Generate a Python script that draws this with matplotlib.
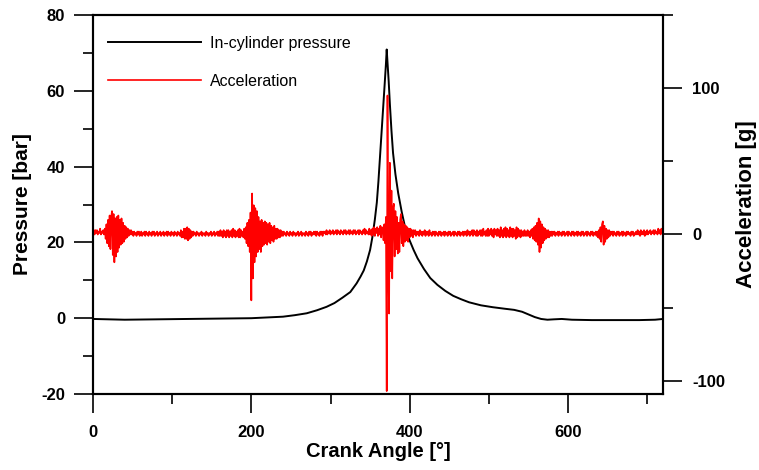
import numpy as np
import matplotlib
matplotlib.use("Agg")
import matplotlib.pyplot as plt
from matplotlib.ticker import MultipleLocator, FixedLocator

plt.rcParams['font.family'] = ['Liberation Sans', 'DejaVu Sans']
plt.rcParams['axes.unicode_minus'] = False

# ---------------- data ----------------
pressure_angle = [0, 40, 80, 120, 160, 200, 220, 240, 255, 270, 283, 295, 305, 315, 325,
                  333, 338, 342, 346, 350, 353, 356, 358.5, 360.5, 362.5, 364.5, 366.5,
                  368.5, 370, 371, 372, 373.5, 375, 377, 379, 382, 385.5, 390, 394, 400,
                  405, 410, 418, 426, 435, 445, 455, 465, 475, 490, 505, 520, 532, 542,
                  550, 558, 566, 574, 582, 592, 605, 630, 660, 690, 710, 720]
pressure_bar = [-0.2, -0.4, -0.3, -0.2, -0.1, 0.0, 0.2, 0.4, 0.8, 1.3, 2.1, 3.0, 4.0, 5.4, 6.9,
                9.2, 11.0, 12.6, 15.0, 18.0, 21.5, 26.0, 30.5, 36.0, 42.5, 49.0, 55.5,
                62.0, 67.0, 70.9, 67.5, 62.5, 56.5, 49.5, 43.6, 38.0, 33.0, 28.0, 24.2, 20.5,
                18.0, 15.8, 13.0, 10.6, 8.8, 7.2, 5.9, 5.0, 4.2, 3.4, 2.9, 2.5, 2.2, 1.7,
                1.0, 0.3, -0.2, -0.4, -0.3, -0.2, -0.4, -0.5, -0.5, -0.5, -0.4, -0.2]

# acceleration sampled every 1 degree, 0..720
acceleration_g = [
    2, 3, 0, 3, 1, 3, 0, 2, 1, 4,
    0, 2, 1, 3, 0, 4, -3, 7, -6, 10,
    -8, 13, -10, 12, 16, -14, 14, -19, 11, -15,
    12, -12, 13, -9, 10, -7, 11, -6, 8, -5,
    6, -3, 5, -2, 4, -1, 3, 0, 3, 0,
    2, -1, 2, 0, 1, -1, 2, 0, 2, -1,
    1, 2, -1, 1, 0, 2, -1, 2, 0, 1,
    -1, 2, 0, 1, -1, 2, 0, 2, -1, 1,
    0, 2, -1, 1, 0, 2, -1, 1, 0, 2,
    -1, 1, 0, 2, -1, 2, 0, 1, -1, 2,
    0, 1, -1, 2, 0, 1, -1, 2, 0, 1,
    -1, 3, -2, 2, -2, 4, -3, 4, -3, 5,
    -4, 4, -3, 3, -2, 2, -1, 2, 0, 1,
    -1, 2, 0, 1, -1, 1, 0, 2, -1, 1,
    0, 1, -1, 2, 0, 1, -1, 1, 0, 2,
    -1, 1, 0, 2, -1, 1, 0, 2, -1, 2,
    -1, 3, -1, 2, -2, 3, -1, 2, -2, 3,
    -1, 3, -2, 2, -1, 3, -2, 4, -1, 3,
    -2, 2, -1, 3, -2, 4, -2, 3, -1, 2,
    -2, 4, -3, 5, -6, 8, -8, 10, -12, 15,
    -45, 28, -30, 20, -19, 18, -15, 16, -12, 12,
    -10, 9, -12, 10, -8, 8, -7, 9, -6, 8,
    -7, 7, -5, 8, -6, 6, -4, 5, -5, 6,
    -3, 4, -3, 4, -2, 3, -2, 3, -1, 2,
    -1, 2, 0, 1, -1, 2, 0, 1, -1, 2,
    0, 1, -1, 2, 0, 1, -1, 1, 0, 2,
    -1, 1, 0, 2, -1, 1, 0, 1, -1, 2,
    0, 1, -1, 2, 0, 2, -1, 1, 0, 2,
    0, 2, -1, 2, 0, 1, -1, 2, 0, 2,
    -1, 2, 1, 2, 0, 3, 0, 2, 1, 3,
    0, 2, 1, 3, 0, 2, 1, 3, 0, 3,
    1, 2, 0, 3, 1, 2, 0, 3, 1, 3,
    0, 2, 1, 3, 0, 3, 1, 2, 0, 3,
    1, 3, 0, 2, 1, 3, 0, 3, 1, 2,
    0, 3, 1, 4, 0, 3, 1, 2, 0, 4,
    0, 3, -1, 4, 0, 5, -1, 4, 1, 5,
    -1, 4, 0, 6, -2, 5, 4, -4, 7, -6,
    12, -107, 95, -20, -54, 49, -25, 30, -30, 18,
    21, -15, 16, -10, 12, -13, 8, -12, 10, 14,
    -6, 9, -8, 7, -5, 6, -4, 5, -5, 4,
    -2, 4, -1, 3, -2, 3, 0, 3, -1, 2,
    0, 2, -1, 3, 0, 2, -1, 2, 0, 3,
    -1, 2, 0, 2, -1, 3, 0, 1, -1, 2,
    0, 2, -1, 2, 0, 1, -1, 2, 0, 2,
    -1, 1, 0, 2, -1, 2, 0, 1, -1, 2,
    0, 2, -1, 1, 0, 2, -1, 2, 0, 1,
    -1, 2, 0, 2, -1, 1, 0, 2, -1, 2,
    0, 2, -1, 3, 0, 2, -1, 2, 0, 3,
    -1, 3, 0, 2, -1, 3, -1, 2, 0, 3,
    -1, 3, -1, 4, 0, 2, -1, 3, -1, 4,
    -1, 3, 0, 4, -1, 3, -2, 4, 0, 3,
    -1, 4, -1, 3, -2, 5, -1, 3, -2, 4,
    -1, 5, -2, 4, -1, 3, -2, 5, -1, 4,
    -2, 4, -1, 3, -3, 5, -2, 4, -1, 3,
    -2, 3, -1, 2, -1, 3, -1, 2, -1, 3,
    -1, 2, -2, 3, -1, 4, -3, 5, -4, 6,
    -5, 8, -7, 11, -12, 9, -9, 7, -6, 5,
    -4, 4, -3, 3, -2, 3, -2, 2, -1, 2,
    -1, 2, 0, 2, -1, 1, 0, 2, -1, 2,
    0, 1, -1, 2, 0, 2, -1, 1, 0, 2,
    -1, 2, 0, 1, -1, 2, 0, 2, -1, 1,
    0, 2, -1, 2, 0, 1, -1, 2, 0, 2,
    -1, 1, 0, 2, -1, 2, 0, 1, -1, 2,
    0, 2, -1, 1, 0, 2, -1, 2, -2, 3,
    -3, 5, -5, 7, 9, -7, 6, -5, 4, -3,
    3, -2, 3, -1, 2, 0, 2, -1, 2, 0,
    1, -1, 2, 0, 2, -1, 1, 0, 2, -1,
    2, 0, 1, -1, 2, 0, 2, 0, 1, -1,
    2, 0, 2, -1, 1, 0, 2, 0, 3, 0,
    2, -1, 3, 0, 2, 0, 3, -1, 2, 0,
    3, 0, 2, 1, 3, 0, 2, 1, 3, 0,
    3, 1, 2, 0, 4, 1, 3, 0, 4, 1, 3,
]
acceleration_angle = np.arange(len(acceleration_g))

x_ticks = [0, 200, 400, 600]
left_ticks = [-20, 0, 20, 40, 60, 80]
right_ticks = [-100, 0, 100]

# ---------------- figure ----------------
fig = plt.figure(figsize=(7.59, 4.70), dpi=100)
ax = fig.add_axes([93 / 759, (470 - 394) / 470, (663 - 93) / 759, (394 - 15) / 470])
ax2 = ax.twinx()

l1, = ax.plot(pressure_angle, pressure_bar, color='black', lw=1.4, label='In-cylinder pressure')
l2, = ax2.plot(acceleration_angle, acceleration_g, color='red', lw=1.2, label='Acceleration')

ax.set_xlim(0, 720)
ax.set_ylim(-20, 80)
ax2.set_ylim(-109, 150)

ax.xaxis.set_major_locator(FixedLocator(x_ticks))
ax.xaxis.set_minor_locator(MultipleLocator(100))
ax.yaxis.set_major_locator(FixedLocator(left_ticks))
ax.yaxis.set_minor_locator(MultipleLocator(10))
ax2.yaxis.set_major_locator(FixedLocator(right_ticks))
ax2.yaxis.set_minor_locator(MultipleLocator(50))

for a in (ax, ax2):
    for s in a.spines.values():
        s.set_linewidth(1.5)
    a.tick_params(which='major', direction='out', length=14, width=1.2,
                  labelsize=12)
    a.tick_params(which='minor', direction='out', length=7, width=1.2)
    for lab in a.get_xticklabels() + a.get_yticklabels():
        lab.set_fontweight('bold')
ax.tick_params(axis='y', pad=6)
ax.tick_params(axis='x', pad=8)
ax2.tick_params(axis='y', pad=7)

ax.set_xlabel('Crank Angle [°]', fontsize=14.5, fontweight='bold', labelpad=2)
ax.set_ylabel('Pressure [bar]', fontsize=15, fontweight='bold', labelpad=7)
ax2.set_ylabel('Acceleration [g]', fontsize=16, fontweight='bold', labelpad=8)

leg = ax.legend(handles=[l1, l2], loc='upper left', bbox_to_anchor=(15 / 570, 1 - 21 / 379),
                frameon=False, fontsize=11.5, handlelength=5.8, handletextpad=0.6,
                labelspacing=1.42, borderpad=0, borderaxespad=0)
leg.set_zorder(5)

fig.savefig('out.png', dpi=100)
